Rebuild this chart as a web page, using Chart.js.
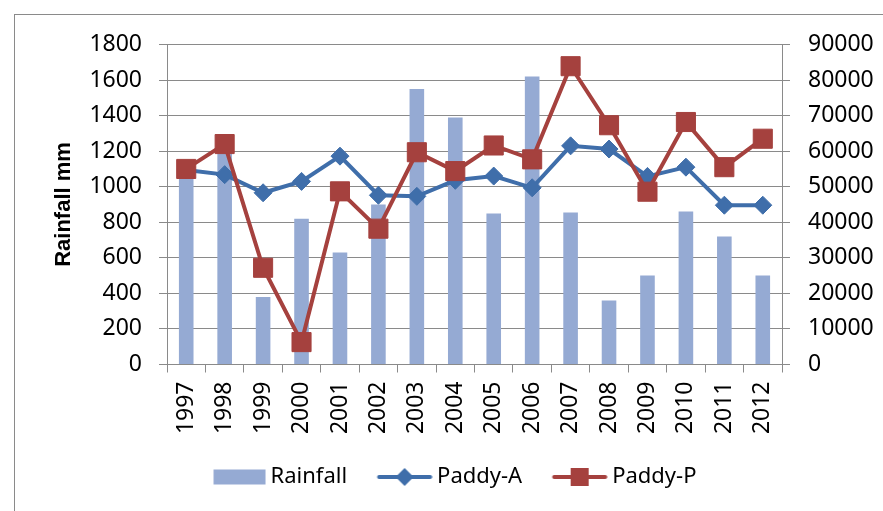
<!DOCTYPE html>
<html>
<head>
<meta charset="utf-8">
<script src="https://cdn.jsdelivr.net/npm/chart.js@4.4.1/dist/chart.umd.min.js"></script>
<style>
  html, body { margin: 0; padding: 0; background: #fff; }
  #wrap { position: relative; width: 883px; height: 511px; overflow: hidden; }
  #frame { position: absolute; left: 14px; top: 14px; width: 900px; height: 600px; border: 1px solid #8a8a8a; }
  #chart { position: absolute; left: 0; top: 0; }
</style>
</head>
<body>
<div id="wrap">
  <div id="frame"></div>
  <canvas id="chart" width="883" height="511"></canvas>
</div>
<script>
// Rainfall (mm, left axis) against paddy area / production (right axis)
const years = ["1997", "1998", "1999", "2000", "2001", "2002", "2003", "2004",
               "2005", "2006", "2007", "2008", "2009", "2010", "2011", "2012"];
const rainfall = [1060, 1200, 380, 820, 630, 900, 1550, 1390, 850, 1620, 855, 360, 500, 860, 720, 500];
const paddyA = [54700, 53400, 48300, 51500, 58600, 47600, 47300, 51800, 53000, 49700, 61500, 60600, 52900, 55500, 44800, 44800];
const paddyP = [55000, 62000, 27200, 6300, 48700, 38200, 59700, 54400, 61600, 57700, 83900, 67300, 48600, 68200, 55500, 63500];

const barColor = '#95aad3';
const blue = '#3f6eaa';
const red = '#a5413e';
const gridColor = '#8a8a8a';

Chart.defaults.font.family = "'Noto Sans', sans-serif";
Chart.defaults.color = '#000';

// legend swatches (82 px wide, drawn part sits at the right so text follows 5px after)
function swatch(kind) {
  const c = document.createElement('canvas');
  c.width = 82;
  c.height = 24;
  const g = c.getContext('2d');
  if (kind === 'bar') {
    g.fillStyle = barColor;
    g.fillRect(29.5, 4.5, 52, 15);
  } else {
    const col = kind === 'A' ? blue : red;
    g.strokeStyle = col;
    g.lineWidth = 4;
    g.lineCap = 'round';
    g.beginPath();
    g.moveTo(28.5, 12);
    g.lineTo(79.5, 12);
    g.stroke();
    g.fillStyle = col;
    const cx = 54;
    if (kind === 'A') {
      g.beginPath();
      g.moveTo(cx, 3);
      g.lineTo(cx + 9, 12);
      g.lineTo(cx, 21);
      g.lineTo(cx - 9, 12);
      g.closePath();
      g.fill();
    } else {
      g.fillRect(cx - 9, 3, 18, 18);
    }
  }
  return c;
}
const swatches = [swatch('bar'), swatch('A'), swatch('P')];

const plain = function(v) { return String(v); };

new Chart(document.getElementById('chart').getContext('2d'), {
  data: {
    labels: years,
    datasets: [
      {
        type: 'bar',
        label: 'Rainfall',
        data: rainfall,
        yAxisID: 'y',
        backgroundColor: barColor,
        categoryPercentage: 1,
        barPercentage: 0.38,
        order: 2
      },
      {
        type: 'line',
        label: 'Paddy-A',
        data: paddyA,
        yAxisID: 'y1',
        borderColor: blue,
        backgroundColor: blue,
        borderWidth: 4,
        pointStyle: 'rectRot',
        pointRadius: 9,
        pointBorderWidth: 1,
        tension: 0,
        order: 1
      },
      {
        type: 'line',
        label: 'Paddy-P',
        data: paddyP,
        yAxisID: 'y1',
        borderColor: red,
        backgroundColor: red,
        borderWidth: 4,
        pointStyle: 'rect',
        pointRadius: 13.5,
        pointBorderWidth: 1,
        tension: 0,
        order: 0
      }
    ]
  },
  options: {
    responsive: false,
    animation: false,
    devicePixelRatio: 1,
    layout: {
      padding: { left: 4, right: 0, top: 44.5, bottom: 13 }
    },
    scales: {
      x: {
        offset: true,
        grid: { offset: true, drawOnChartArea: false, tickLength: 8, color: gridColor, lineWidth: 1 },
        border: { color: gridColor, width: 1 },
        ticks: { minRotation: 90, maxRotation: 90, autoSkip: false, padding: 9, font: { size: 23 } },
        afterFit: function(scale) { scale.height = 91.5; }
      },
      y: {
        position: 'left',
        min: 0,
        max: 1800,
        ticks: { stepSize: 200, padding: 17, font: { size: 23 }, callback: plain },
        grid: { tickLength: 8, color: gridColor, lineWidth: 1 },
        border: { color: gridColor, width: 1 },
        title: {
          display: true,
          text: 'Rainfall mm',
          color: '#000',
          padding: { top: 47, bottom: 0 },
          font: { family: "'Liberation Sans', Arial, sans-serif", weight: 'bold', size: 22 }
        },
        afterFit: function(scale) { scale.width = 163; }
      },
      y1: {
        position: 'right',
        min: 0,
        max: 90000,
        ticks: { stepSize: 10000, padding: 18, font: { size: 23 }, callback: plain },
        grid: { drawOnChartArea: false, tickLength: 8, color: gridColor, lineWidth: 1 },
        border: { color: gridColor, width: 1 },
        afterFit: function(scale) { scale.width = 101; }
      }
    },
    plugins: {
      tooltip: { enabled: false },
      legend: {
        position: 'bottom',
        labels: {
          usePointStyle: true,
          pointStyleWidth: 69,
          padding: 10,
          color: '#000',
          font: { size: 22 },
          generateLabels: function(chart) {
            return chart.data.datasets.map(function(ds, i) {
              return {
                text: ds.label,
                pointStyle: swatches[i],
                fillStyle: 'transparent',
                strokeStyle: 'transparent',
                lineWidth: 0,
                hidden: false,
                datasetIndex: i
              };
            });
          }
        }
      }
    }
  }
});
</script>
</body>
</html>
